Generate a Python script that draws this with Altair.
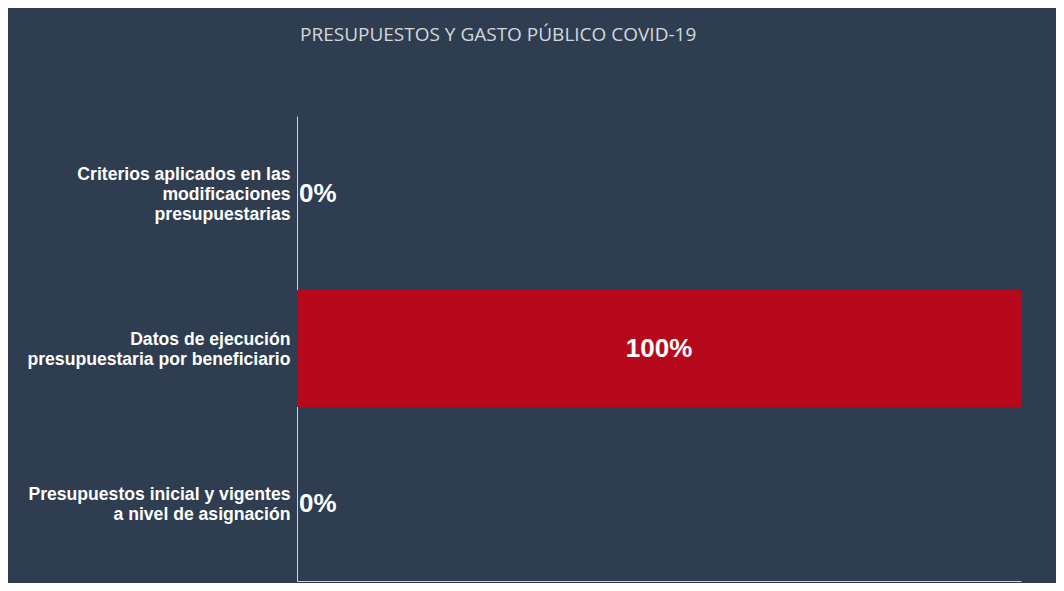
import altair as alt
import pandas as pd

categories = [
    "Criterios aplicados en las|modificaciones|presupuestarias",
    "Datos de ejecución|presupuestaria por beneficiario",
    "Presupuestos inicial y vigentes|a nivel de asignación",
]
values = [0.0, 1.0, 0.0]
value_labels = ["0%", "100%", "0%"]

df = pd.DataFrame({"cat": categories, "val": values, "lab": value_labels})

BG = "#2e3d4f"
RED = "#b7091c"

y_enc = alt.Y(
    "cat:N",
    sort=categories,
    title=None,
    scale=alt.Scale(paddingInner=0.245, paddingOuter=0.1225),
    axis=alt.Axis(
        labelExpr="split(datum.label, '|')",
        labelFont="Liberation Sans",
        labelFontWeight="bold",
        labelFontSize=17.6,
        labelLineHeight=20,
        labelColor="#ffffff",
        labelPadding=7,
        labelLimit=400,
        labelOffset={
            "condition": {"test": "length(split(datum.label, '|')) > 2", "value": -19},
            "value": -9,
        },
        ticks=False,
        domainColor="#d0d3d6",
        domainWidth=1,
        grid=False,
    ),
)

x_scale = alt.Scale(domain=[0, 1], nice=False, zero=True)
x_axis = alt.Axis(labels=False, ticks=False, grid=False, title=None,
                  domainColor="#d0d3d6", domainWidth=1)

bars = alt.Chart(df).mark_bar(color=RED).encode(
    x=alt.X("val:Q", scale=x_scale, axis=x_axis),
    y=y_enc,
)

mid_text = alt.Chart(df).transform_filter("datum.val > 0").transform_calculate(
    mid="datum.val / 2"
).mark_text(
    font="Liberation Sans", fontWeight="bold", fontSize=26, color="#ffffff",
    align="center", baseline="middle",
).encode(
    x=alt.X("mid:Q", scale=x_scale),
    y=alt.Y("cat:N", sort=categories),
    text="lab:N",
)

zero_text = alt.Chart(df).transform_filter("datum.val <= 0").mark_text(
    font="Liberation Sans", fontWeight="bold", fontSize=26, color="#ffffff",
    align="left", baseline="middle", dx=2,
).encode(
    x=alt.X("val:Q", scale=x_scale),
    y=alt.Y("cat:N", sort=categories),
    text="lab:N",
)

chart = alt.layer(bars, mid_text, zero_text).properties(
    width=724,
    height=465,
    background=BG,
    padding={"left": 289, "top": 108, "right": 35, "bottom": 2},
    autosize=alt.AutoSizeParams(type="none"),
    title=alt.Title(
        "PRESUPUESTOS Y GASTO PÚBLICO COVID-19",
        anchor="start",
        frame="group",
        font="Open Sans",
        fontSize=19,
        fontWeight="normal",
        color="#d4d8dd",
        baseline="alphabetic",
        offset=56,
        dx=3,
    ),
).configure_view(stroke=None)

chart.save("out.html", embed_options={"renderer": "svg", "actions": False})
